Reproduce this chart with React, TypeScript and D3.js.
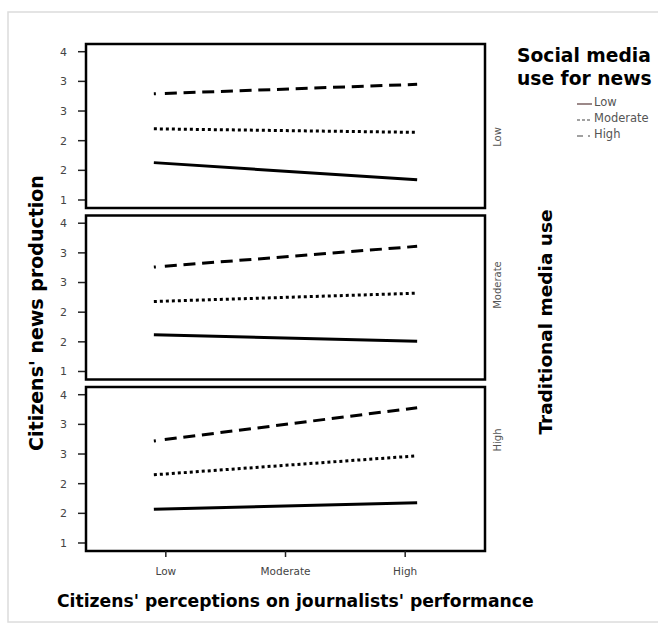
import React from "react";
import * as d3 from "d3";

// Traditional media use (one panel each, top to bottom)
const traditionalLevels = ["Low", "Moderate", "High"];
// Social media use for news (one line each)
const socialLevels = ["Low", "Moderate", "High"];
// Perception levels on the x axis
const perceptionLabels = ["Low", "Moderate", "High"];
const perceptionValues = [1, 2, 3];
// Lines are drawn over this perception range
const lineRange = [0.9, 3.1];

// Predicted news production at the start and end of each line, per panel
const socialLow = [
  [2.13, 1.84],
  [2.12, 2.01],
  [2.07, 2.18],
];
const socialModerate = [
  [2.7, 2.64],
  [2.68, 2.82],
  [2.65, 2.97],
];
const socialHigh = [
  [3.29, 3.45],
  [3.26, 3.61],
  [3.22, 3.78],
];

const yTickValues = [1.5, 2, 2.5, 3, 3.5, 4];
const yTickLabels = ["1", "2", "2", "3", "3", "4"];

const W = 658;
const H = 630;
const left = 86;
const right = 485;
const top0 = 44;
const panelH = 164;
const period = 171.5;
const FONT = "DejaVu Sans, Verdana, sans-serif";
const SMALL = "Verdana, DejaVu Sans, sans-serif";

const x = d3.scaleLinear().domain([0.333, 3.667]).range([left, right]);

function dashPattern(): string {
  const parts: number[] = [2, 9];
  for (let i = 0; i < 14; i++) parts.push(12, 6.7);
  return parts.join(" ");
}

const lineStyles = [
  { dash: "none" },
  { dash: "3 3" },
  { dash: dashPattern() },
];

const seriesBySocial = [socialLow, socialModerate, socialHigh];
const stripLabelY = [137, 285, 440];

export default function App() {
  const line = d3
    .line<[number, number]>()
    .x((d) => x(d[0]))
    .y((d) => d[1]);

  return (
    <svg
      width={W}
      height={H}
      style={{ position: "absolute", left: 0, top: 0, background: "#fff" }}
      fontFamily={FONT}
    >
      <rect x={8} y={12} width={680} height={610} fill="#fff" stroke="#dcdcdc" strokeWidth={1.5} />

      {traditionalLevels.map((lvl, pi) => {
        const top = top0 + pi * period;
        const y = d3.scaleLinear().domain([1.365, 4.13]).range([top + panelH, top]);
        return (
          <g key={lvl}>
            {yTickValues.map((v, i) => (
              <g key={i}>
                <line x1={78} x2={left} y1={y(v)} y2={y(v)} stroke="#222" strokeWidth={1.5} />
                <text
                  x={67}
                  y={y(v)}
                  dy="0.35em"
                  textAnchor="end"
                  fontSize={11}
                  fill="#444"
                  fontFamily={SMALL}
                >
                  {yTickLabels[i]}
                </text>
              </g>
            ))}
            {seriesBySocial.map((series, si) => {
              const vals = series[pi];
              const pts: [number, number][] = [
                [lineRange[0], y(vals[0])],
                [lineRange[1], y(vals[1])],
              ];
              return (
                <path
                  key={si}
                  d={line(pts) || ""}
                  fill="none"
                  stroke="#000"
                  strokeWidth={3}
                  strokeDasharray={lineStyles[si].dash}
                />
              );
            })}
            <rect
              x={left}
              y={top}
              width={right - left}
              height={panelH}
              fill="none"
              stroke="#000"
              strokeWidth={2.5}
            />
            <text
              transform={`translate(501,${stripLabelY[pi]}) rotate(-90)`}
              textAnchor="middle"
              fontSize={10}
              fill="#555"
              fontFamily={SMALL}
            >
              {lvl}
            </text>
          </g>
        );
      })}

      {/* x axis */}
      {perceptionValues.map((v, i) => {
        const bottom = top0 + 2 * period + panelH;
        return (
          <g key={v}>
            <line x1={x(v)} x2={x(v)} y1={bottom} y2={bottom + 6} stroke="#222" strokeWidth={1.5} />
            <text
              x={x(v)}
              y={bottom + 24}
              textAnchor="middle"
              fontSize={10.5}
              fill="#444"
              fontFamily={SMALL}
            >
              {perceptionLabels[i]}
            </text>
          </g>
        );
      })}

      <text x={57} y={607} fontSize={17.2} fontWeight="bold" fill="#000">
        Citizens' perceptions on journalists' performance
      </text>
      <text
        transform="translate(43,313) rotate(-90)"
        textAnchor="middle"
        fontSize={19}
        fontWeight="bold"
        fill="#000"
      >
        Citizens' news production
      </text>
      <text
        transform="translate(552,322) rotate(-90)"
        textAnchor="middle"
        fontSize={18.5}
        fontWeight="bold"
        fill="#000"
      >
        Traditional media use
      </text>

      {/* legend */}
      <text x={517} y={62} fontSize={18.7} fontWeight="bold" fill="#000">
        Social media
      </text>
      <text x={517} y={85} fontSize={18.7} fontWeight="bold" fill="#000">
        use for news
      </text>
      {socialLevels.map((s, i) => {
        const ly = 102 + i * 16;
        const dashes = ["none", "3 2", "6 5 2 5"];
        return (
          <g key={s}>
            <line
              x1={577}
              x2={592}
              y1={ly + 2}
              y2={ly + 2}
              stroke={i === 0 ? "#5a3a3a" : "#444"}
              strokeWidth={1.2}
              strokeDasharray={dashes[i]}
            />
            <text
              x={594}
              y={ly}
              dy="0.35em"
              fontSize={11.5}
              fill="#555"
              fontFamily={SMALL}
            >
              {s}
            </text>
          </g>
        );
      })}
    </svg>
  );
}
